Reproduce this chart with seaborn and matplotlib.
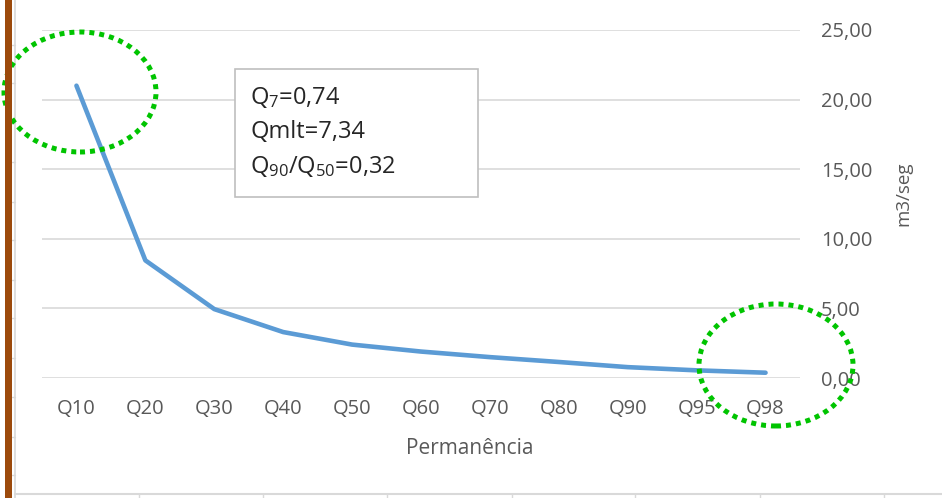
import matplotlib
matplotlib.use("Agg")
import matplotlib.pyplot as plt
from matplotlib.patches import Ellipse, Rectangle
from matplotlib.lines import Line2D
from matplotlib.ticker import FuncFormatter
import seaborn as sns
import pandas as pd

# Flow-duration curve
categories = ["Q10", "Q20", "Q30", "Q40", "Q50", "Q60", "Q70", "Q80", "Q90", "Q95", "Q98"]
vazao = [21.0, 8.45, 4.95, 3.3, 2.4, 1.9, 1.5, 1.15, 0.78, 0.55, 0.38]
y_ticks = [0, 5, 10, 15, 20, 25]
info_lines = [r"Q$\mathregular{_7}$=0,74",
              "Qmlt=7,34",
              r"Q$\mathregular{_{90}}$/Q$\mathregular{_{50}}$=0,32"]

FONT = "Open Sans"
sns.set_theme(style="white")
plt.rcParams["font.family"] = [FONT, "DejaVu Sans"]
plt.rcParams["mathtext.fontset"] = "custom"
plt.rcParams["mathtext.rm"] = FONT
plt.rcParams["mathtext.it"] = FONT + ":italic"
plt.rcParams["mathtext.bf"] = FONT + ":bold"

TXT = "#595959"
GRID = "#D9D9D9"
W, H = 942, 498

fig = plt.figure(figsize=(W / 100, H / 100), dpi=100)
fig.patch.set_facecolor("white")
ax = fig.add_axes([42 / W, (H - 378) / H, (800 - 42) / W, (378 - 30) / H])

df = pd.DataFrame({"Permanência": categories, "vazao": vazao})
sns.lineplot(data=df, x="Permanência", y="vazao", sort=False, ax=ax,
             color="#5B9BD5", linewidth=3.3, solid_capstyle="round",
             solid_joinstyle="round", zorder=3)

ax.set_xlim(-0.5, len(categories) - 0.5)
ax.set_ylim(0, 25)
ax.set_yticks(y_ticks)
ax.yaxis.set_major_formatter(FuncFormatter(lambda v, p: f"{v:.2f}".replace(".", ",")))
ax.yaxis.tick_right()
ax.yaxis.set_label_position("right")
ax.grid(axis="y", color=GRID, linewidth=1.2)
ax.grid(axis="x", visible=False)
for s in ax.spines.values():
    s.set_visible(False)
ax.tick_params(axis="both", length=0, labelsize=14.5, labelcolor=TXT)
ax.tick_params(axis="y", pad=15)
ax.tick_params(axis="x", pad=15)
ax.set_ylabel("m3/seg", fontsize=13.5, color=TXT)
ax.yaxis.set_label_coords((903 - 42) / (800 - 42), (378 - 194) / (378 - 30))
ax.set_xlabel("Permanência", fontsize=15, color=TXT)
ax.xaxis.set_label_coords((470 - 42) / (800 - 42), -(448 - 378) / (378 - 30))
ax.xaxis.label.set_va("center")
ax.yaxis.label.set_va("center")

# Statistics box
fig.add_artist(Rectangle((235 / W, (H - 197) / H), (478 - 235) / W, (197 - 69) / H,
                         transform=fig.transFigure, facecolor="white",
                         edgecolor="#BFBFBF", linewidth=1.2, zorder=5))
for i, line in enumerate(info_lines):
    fig.text(250 / W, (H - (97 + 34.5 * i)) / H, line, fontsize=17,
             color="#262626", va="center", ha="left", zorder=6)

# Highlight ellipses
for cx, cy, ew, eh in [(80, 92, 152, 120), (776, 365, 154, 122)]:
    fig.add_artist(Ellipse((cx / W, (H - cy) / H), ew / W, eh / H,
                           transform=fig.transFigure, fill=False,
                           edgecolor="#00C400", linewidth=3.6,
                           linestyle=(0, (1, 1)), zorder=7))

# Sheet frame: brown bar on the left, cell borders
fig.add_artist(Rectangle((5 / W, 0), 6.5 / W, 1, transform=fig.transFigure,
                         facecolor="#9C4A0C", edgecolor="none", zorder=8))
fig.add_artist(Line2D([15 / W, 15 / W], [0, 1], transform=fig.transFigure,
                      color="#D9D9D9", linewidth=1.2, zorder=4))
fig.add_artist(Line2D([15 / W, 1], [(H - 494) / H] * 2, transform=fig.transFigure,
                      color="#D9D9D9", linewidth=1.5, zorder=4))
for xx in [139, 263, 387, 512, 635, 760, 884]:
    fig.add_artist(Line2D([xx / W] * 2, [0, (H - 494) / H], transform=fig.transFigure,
                          color="#D9D9D9", linewidth=1.0, zorder=4))
for yy in [45, 83, 123, 162, 202, 240, 280, 318, 358, 397, 437, 475]:
    fig.add_artist(Line2D([12 / W, 15 / W], [(H - yy) / H] * 2, transform=fig.transFigure,
                          color="#D9D9D9", linewidth=1.0, zorder=4))

fig.savefig("out.png", dpi=100, facecolor="white")
